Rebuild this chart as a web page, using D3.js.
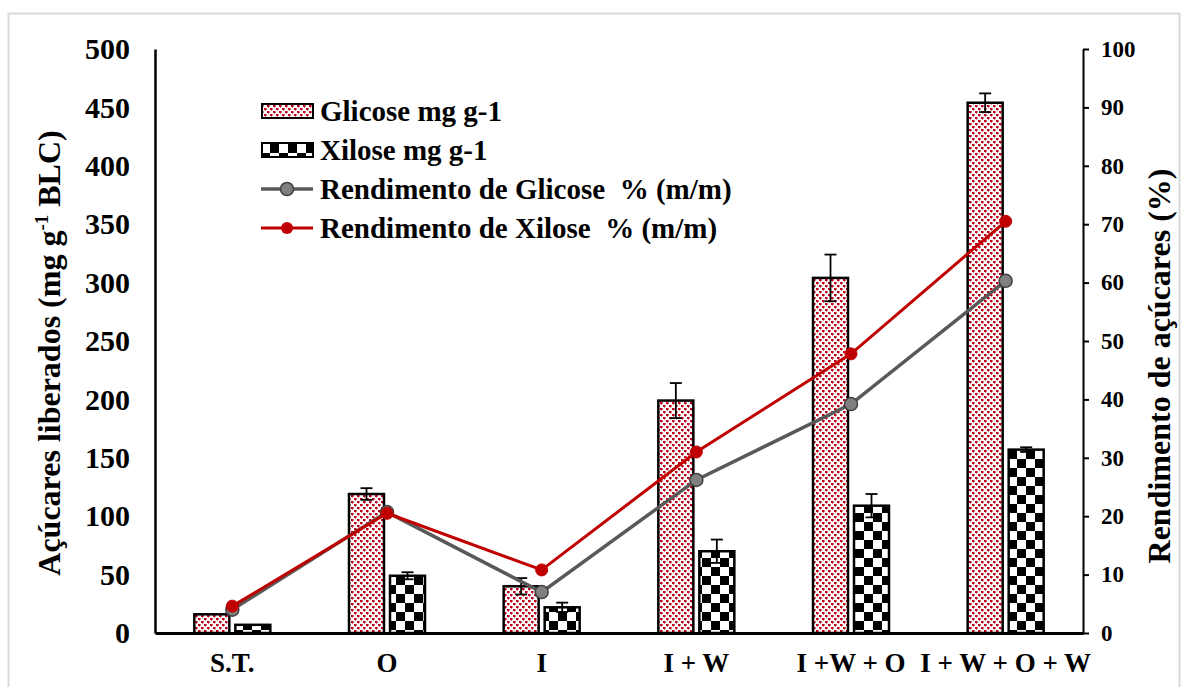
<!DOCTYPE html>
<html>
<head>
<meta charset="utf-8">
<script src="https://cdn.jsdelivr.net/npm/d3@7"></script>
<style>
  html, body { margin: 0; padding: 0; background: #fff; }
  svg { display: block; }
  text { font-family: "Liberation Serif", "Times New Roman", serif; font-weight: bold; fill: #000; }
</style>
</head>
<body>
<svg id="chart" width="1182" height="687"></svg>
<script>
// Tratamentos (eixo X)
const categories = ["S.T.", "O", "I", "I + W", "I +W + O", "I + W + O + W"];

// Açúcares liberados (mg g-1 BLC) e desvios
const glicose = [16, 119, 40, 199, 304, 454];
const glicoseErr = [0, 5, 7, 15, 20, 8];
const xilose = [7, 49, 22, 70, 109, 157];
const xiloseErr = [0, 3, 4, 10, 10, 2];

// Rendimentos (%)
const rendGlicose = [4.0, 20.7, 7.0, 26.2, 39.2, 60.3];
const rendXilose = [4.6, 20.5, 10.8, 31.0, 47.8, 70.5];

const leftTicks = [0, 50, 100, 150, 200, 250, 300, 350, 400, 450, 500];
const rightTicks = [0, 10, 20, 30, 40, 50, 60, 70, 80, 90, 100];

const legendLabels = [
  "Glicose mg g-1",
  "Xilose mg g-1",
  "Rendimento de Glicose  % (m/m)",
  "Rendimento de Xilose  % (m/m)"
];

const svg = d3.select("#chart");
const plotLeft = 155, plotRight = 1083, plotTop = 49, plotBottom = 633;
const FONT = "Liberation Serif";

// outer frame
svg.append("rect")
  .attr("x", 8.5).attr("y", 13.5).attr("width", 1171).attr("height", 680)
  .attr("fill", "none").attr("stroke", "#d9d9d9").attr("stroke-width", 2);

// patterns: red dotted grid for glucose, checkerboard for xylose
const defs = svg.append("defs");
const pg = defs.append("pattern").attr("id", "pGlicose")
  .attr("patternUnits", "userSpaceOnUse").attr("width", 6).attr("height", 6);
pg.append("rect").attr("width", 6).attr("height", 6).attr("fill", "#fff");
[[0, 0, 2, 2], [3, 3, 2, 2]].forEach(r => pg.append("rect")
  .attr("x", r[0]).attr("y", r[1]).attr("width", r[2]).attr("height", r[3]).attr("fill", "#c00018"));
[[2, 1], [5, 4], [1, 2], [4, 5], [2, 0], [5, 3]].forEach(p => pg.append("rect")
  .attr("x", p[0]).attr("y", p[1]).attr("width", 1).attr("height", 1).attr("fill", "#d9707e"));

const pc = defs.append("pattern").attr("id", "pXilose")
  .attr("patternUnits", "userSpaceOnUse").attr("width", 18).attr("height", 18);
pc.append("rect").attr("width", 18).attr("height", 18).attr("fill", "#fff");
pc.append("rect").attr("x", 0).attr("y", 0).attr("width", 9).attr("height", 9).attr("fill", "#000");
pc.append("rect").attr("x", 9).attr("y", 9).attr("width", 9).attr("height", 9).attr("fill", "#000");

// scales
const x = d3.scaleBand().domain(categories).range([plotLeft, plotRight]).padding(0);
const y = d3.scaleLinear().domain([0, 500]).range([plotBottom, plotTop]);
const y2 = d3.scaleLinear().domain([0, 100]).range([plotBottom, plotTop]);

const barW = 35, gap = 3;
const cx = c => x(c) + x.bandwidth() / 2;

// bars
const gBars = svg.append("g");
categories.forEach((c, i) => {
  gBars.append("rect")
    .attr("x", cx(c) - gap - barW).attr("y", y(glicose[i]))
    .attr("width", barW).attr("height", y(0) - y(glicose[i]))
    .attr("fill", "url(#pGlicose)").attr("stroke", "#000").attr("stroke-width", 2.5);
  gBars.append("rect")
    .attr("x", cx(c) + gap).attr("y", y(xilose[i]))
    .attr("width", barW).attr("height", y(0) - y(xilose[i]))
    .attr("fill", "url(#pXilose)").attr("stroke", "#000").attr("stroke-width", 2.5);
});

// error bars
function errBar(xc, v, e) {
  if (!e) return;
  const g = svg.append("g").attr("stroke", "#000").attr("stroke-width", 1.8);
  g.append("line").attr("x1", xc).attr("x2", xc).attr("y1", y(v - e)).attr("y2", y(v + e));
  g.append("line").attr("x1", xc - 6).attr("x2", xc + 6).attr("y1", y(v - e)).attr("y2", y(v - e));
  g.append("line").attr("x1", xc - 6).attr("x2", xc + 6).attr("y1", y(v + e)).attr("y2", y(v + e));
}
categories.forEach((c, i) => {
  errBar(cx(c) - gap - barW / 2, glicose[i], glicoseErr[i]);
  errBar(cx(c) + gap + barW / 2, xilose[i], xiloseErr[i]);
});

// axes
const axL = svg.append("g").attr("transform", `translate(${plotLeft},0)`)
  .call(d3.axisLeft(y).tickValues(leftTicks).tickSize(0).tickPadding(25));
axL.attr("font-family", FONT);
axL.select(".domain").attr("stroke", "#000").attr("stroke-width", 2.5);
axL.selectAll("text").style("font-size", "30px").style("font-family", FONT).style("font-weight", "bold");

const axR = svg.append("g").attr("transform", `translate(${plotRight},0)`)
  .call(d3.axisRight(y2).tickValues(rightTicks).tickSize(6).tickSizeOuter(0).tickPadding(12));
axR.attr("font-family", FONT);
axR.select(".domain").attr("stroke", "#000").attr("stroke-width", 2);
axR.selectAll(".tick line").attr("stroke", "#000").attr("stroke-width", 2);
axR.selectAll("text").style("font-size", "23px").style("font-family", FONT).style("font-weight", "bold");

const axB = svg.append("g").attr("transform", `translate(0,${plotBottom})`)
  .call(d3.axisBottom(x).tickSize(0).tickPadding(20));
axB.attr("font-family", FONT);
axB.select(".domain").attr("stroke", "#000").attr("stroke-width", 3);
axB.selectAll("text").style("font-size", "27px").style("font-family", FONT).style("font-weight", "bold");

// yield lines
const line = d3.line().x((d, i) => cx(categories[i])).y(d => y2(d));
svg.append("path").datum(rendGlicose).attr("d", line)
  .attr("fill", "none").attr("stroke", "#595959").attr("stroke-width", 3.5);
svg.selectAll(".mg").data(rendGlicose).enter().append("circle")
  .attr("cx", (d, i) => cx(categories[i])).attr("cy", d => y2(d)).attr("r", 6.5)
  .attr("fill", "#808080").attr("stroke", "#404040").attr("stroke-width", 1.5);
svg.append("path").datum(rendXilose).attr("d", line)
  .attr("fill", "none").attr("stroke", "#c00000").attr("stroke-width", 3);
svg.selectAll(".mx").data(rendXilose).enter().append("circle")
  .attr("cx", (d, i) => cx(categories[i])).attr("cy", d => y2(d)).attr("r", 6)
  .attr("fill", "#c00000").attr("stroke", "#c00000");

// axis titles
svg.append("text")
  .attr("transform", "translate(60,353) rotate(-90)")
  .attr("text-anchor", "middle").style("font-size", "32px")
  .call(t => {
    t.append("tspan").text("Açúcares liberados (mg g");
    t.append("tspan").attr("dy", -12).style("font-size", "19px").text("-1");
    t.append("tspan").attr("dy", 12).text(" BLC)");
  });
svg.append("text")
  .attr("transform", "translate(1170,366) rotate(-90)")
  .attr("text-anchor", "middle").style("font-size", "32px")
  .text("Rendimento de açúcares (%)");

// legend
const lg = svg.append("g");
const ly = [111, 150, 189, 228];
lg.append("rect").attr("x", 262).attr("y", ly[0] - 7).attr("width", 51).attr("height", 14)
  .attr("fill", "url(#pGlicose)").attr("stroke", "#000").attr("stroke-width", 2);
lg.append("rect").attr("x", 262).attr("y", ly[1] - 7).attr("width", 51).attr("height", 14)
  .attr("fill", "url(#pXilose)").attr("stroke", "#000").attr("stroke-width", 2);
lg.append("line").attr("x1", 261).attr("x2", 313).attr("y1", ly[2]).attr("y2", ly[2])
  .attr("stroke", "#595959").attr("stroke-width", 3.5);
lg.append("circle").attr("cx", 287).attr("cy", ly[2]).attr("r", 6.5)
  .attr("fill", "#808080").attr("stroke", "#404040").attr("stroke-width", 1.5);
lg.append("line").attr("x1", 261).attr("x2", 313).attr("y1", ly[3]).attr("y2", ly[3])
  .attr("stroke", "#c00000").attr("stroke-width", 3);
lg.append("circle").attr("cx", 287).attr("cy", ly[3]).attr("r", 6).attr("fill", "#c00000");
legendLabels.forEach((s, i) => {
  lg.append("text").attr("x", 320).attr("y", ly[i]).attr("dy", "0.35em")
    .style("font-size", "29px").style("white-space", "pre").attr("xml:space", "preserve").text(s);
});
</script>
</body>
</html>
